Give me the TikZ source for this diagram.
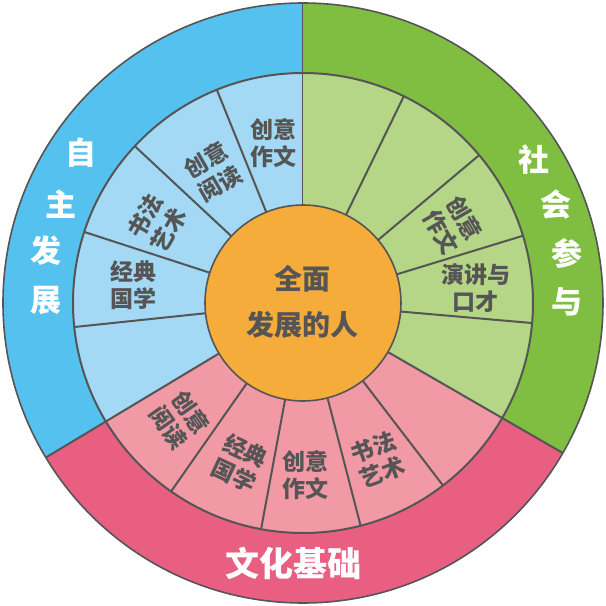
\documentclass[tikz,border=0pt]{standalone}
\usepackage{fontspec}
\newfontfamily\cjk{Noto Sans CJK SC}
\definecolor{bluedark}{HTML}{55C1EF}
\definecolor{bluelight}{HTML}{A3D9F5}
\definecolor{greendark}{HTML}{7FBE41}
\definecolor{greenlight}{HTML}{B5D687}
\definecolor{pinkdark}{HTML}{E95F82}
\definecolor{pinklight}{HTML}{F19AA5}
\definecolor{orangec}{HTML}{F5AC3B}
\definecolor{linec}{HTML}{555555}
\tikzset{
  divline/.style={draw=linec, line width=2pt},
  seglabel/.style={text=linec, font=\cjk\bfseries\fontsize{23}{27}\selectfont, align=center, inner sep=0pt},
  centerlabel/.style={text=linec, font=\cjk\bfseries\fontsize{28}{30}\selectfont, align=center, inner sep=0pt},
  outerlabel/.style={text=white, font=\cjk\bfseries\fontsize{31}{32}\selectfont, inner sep=0pt},
  bottomlabel/.style={text=white, font=\cjk\bfseries\fontsize{34}{36}\selectfont, inner sep=0pt}
}
\begin{document}
\begin{tikzpicture}[x=1pt,y=1pt]
\useasboundingbox (-303,-303) rectangle (303,303);
% outer sectors
\fill[bluedark] (0,0) -- (90:300) arc[start angle=90,end angle=211,radius=300] -- cycle;
\fill[greendark] (0,0) -- (90:300) arc[start angle=90,end angle=-30,radius=300] -- cycle;
\fill[pinkdark] (0,0) -- (211:300) arc[start angle=211,end angle=330,radius=300] -- cycle;
% middle ring
\fill[bluelight] (0,0) -- (90:230) arc[start angle=90,end angle=211,radius=230] -- cycle;
\fill[greenlight] (0,0) -- (90:230) arc[start angle=90,end angle=-30,radius=230] -- cycle;
\fill[pinklight] (0,0) -- (211:230) arc[start angle=211,end angle=330,radius=230] -- cycle;
% circles and division lines
\draw[draw=linec, line width=1.6pt] (0,0) circle[radius=300];
\draw[divline] (0,0) circle[radius=230];
\foreach \a in {112,137,162,186,64,40,17,-5,235,259.5,284.5,307.5}
  \draw[divline] (\a:98) -- (\a:230);
\foreach \a in {211,330}
  \draw[divline] (\a:98) -- (\a:300);
\draw[draw=linec, line width=1pt] (90:98) -- (90:300);
% center
\fill[orangec] (0,0) circle[radius=98];
\draw[draw=linec, line width=1.6pt] (0,0) circle[radius=98];
\node[centerlabel] (c1) at (0,24) {全面};
\node[centerlabel] (c2) at (0,-22) {发展的人};
% blue segment labels
\node[seglabel] (b1) at (-29,160) {创意\\作文};
\node[seglabel, rotate=30] (b2) at (-90,131) {创意\\阅读};
\node[seglabel, rotate=60] (b3) at (-146,80) {书法\\艺术};
\node[seglabel] (b4) at (-169,18) {经典\\国学};
% green segment labels
\node[seglabel, rotate=-60] (g1) at (150,78) {创意\\作文};
\node[seglabel] (g2) at (173,15) {演讲与\\口才};
% pink segment labels
\node[seglabel, rotate=-55] (p1) at (-123,-117) {创意\\阅读};
\node[seglabel, rotate=-25] (p2) at (-63,-160) {经典\\国学};
\node[seglabel] (p3) at (3,-172) {创意\\作文};
\node[seglabel, rotate=20] (p4) at (75,-157) {书法\\艺术};
% outer labels
\node[outerlabel] (o1) at (-222,150) {自};
\node[outerlabel] (o2) at (-242,99) {主};
\node[outerlabel] (o3) at (-257,52) {发};
\node[outerlabel] (o4) at (-257,3) {展};
\node[outerlabel] (o5) at (231,143) {社};
\node[outerlabel] (o6) at (253,98) {会};
\node[outerlabel] (o7) at (264,50) {参};
\node[outerlabel] (o8) at (264,1) {与};
\node[bottomlabel] (o9) at (-9,-260) {文化基础};
\end{tikzpicture}
\end{document}
